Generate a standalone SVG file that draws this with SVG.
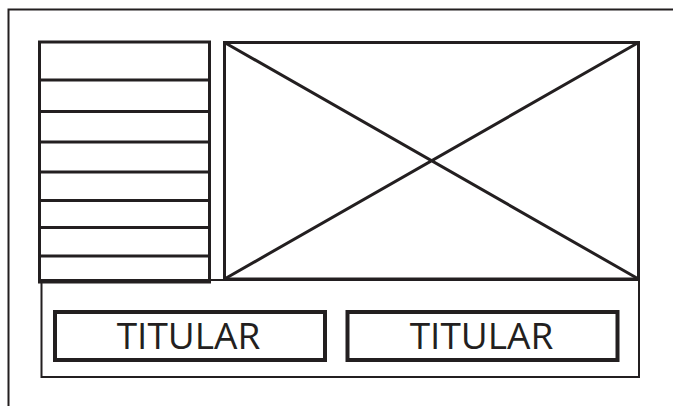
<svg xmlns="http://www.w3.org/2000/svg" width="673" height="406" viewBox="0 0 673 406">
<style>
.ln{fill:none;stroke:#231f20;stroke-linecap:butt;stroke-linejoin:miter}
.thick{stroke-width:3}
.thin{stroke-width:2}
.btn{fill:none;stroke:#231f20;stroke-width:4}
.lbl{font-family:"Open Sans","Noto Sans","Liberation Sans",sans-serif;font-size:37px;fill:#231f20;text-anchor:middle}
</style>
<rect width="673" height="406" fill="#fff"/>
<g id="frame">
<path class="ln thin" d="M8.5,406 V9.5 H673"/>
</g>
<g id="container">
<rect class="ln thin" x="41.5" y="280" width="597.5" height="97"/>
</g>
<g id="list">
<rect class="ln thick" x="39.5" y="42" width="170" height="240" fill="#fff"/>
<path class="ln thick" d="M39.5,80 H209.5 M39.5,111.5 H209.5 M39.5,142 H209.5 M39.5,172 H209.5 M39.5,200.5 H209.5 M39.5,227.5 H209.5 M39.5,256 H209.5"/>
</g>
<g id="image">
<rect class="ln thick" x="224.5" y="42.5" width="414" height="236.5" fill="#fff"/>
<path class="ln thick" d="M224.5,42.5 L638.5,279 M638.5,42.5 L224.5,279"/>
</g>
<g id="button1">
<rect class="btn" x="55" y="312" width="270" height="48"/>
<text class="lbl" x="188.5" y="349">TITULAR</text>
</g>
<g id="button2">
<rect class="btn" x="347.5" y="312" width="270" height="48"/>
<text class="lbl" x="481.5" y="349">TITULAR</text>
</g>
<g id="connectors"></g>
</svg>
